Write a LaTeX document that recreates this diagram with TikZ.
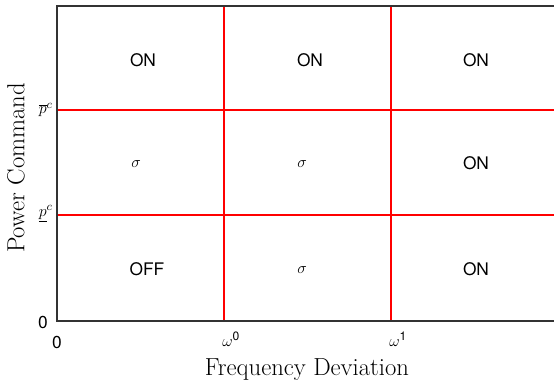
\documentclass[tikz,border=0pt]{standalone}
\usepackage{fontspec}
\setsansfont{TeX Gyre Heros}
\begin{document}
\begin{tikzpicture}[x=0.75pt,y=-0.75pt,
  axisline/.style={draw=black!80, line width=0.8pt},
  redline/.style={draw=red, line width=1.5pt},
  state/.style={font=\sffamily\fontsize{13}{15}\selectfont, inner sep=0pt},
  sig/.style={font=\fontsize{13}{15}\selectfont, inner sep=0pt},
  axlabel/.style={font=\fontsize{18.5}{21}\selectfont, inner sep=0pt},
  tick/.style={font=\fontsize{13}{15}\selectfont, inner sep=0pt},
  zero/.style={font=\sffamily\fontsize{13}{15}\selectfont, inner sep=0pt}]
\useasboundingbox (0,0) rectangle (554,384);
\fill[white] (0,0) rectangle (554,384);
% grid lines
\coordinate (v0t) at (224,6); \coordinate (v0b) at (224,321);
\coordinate (v1t) at (391,6); \coordinate (v1b) at (391,321);
\coordinate (h0l) at (57,110); \coordinate (h0r) at (554,110);
\coordinate (h1l) at (57,215); \coordinate (h1r) at (554,215);
\draw[redline] (v0t) -- (v0b);
\draw[redline] (v1t) -- (v1b);
\draw[redline] (h0l) -- (h0r);
\draw[redline] (h1l) -- (h1r);
% axes
\coordinate (tl) at (57,6); \coordinate (tr) at (554,6);
\coordinate (bl) at (57,321); \coordinate (br) at (554,321);
\draw[axisline] (tr) -- (tl) -- (bl) -- (br);
% region labels
\node[state] (a1) at (143,60) {ON};
\node[state] (a2) at (310,60) {ON};
\node[state] (a3) at (476,60) {ON};
\node[sig] (b1) at (136,164) {$\sigma$};
\node[sig] (b2) at (302,164) {$\sigma$};
\node[state] (b3) at (476,163) {ON};
\node[state] (c1) at (147,269) {OFF};
\node[sig] (c2) at (302,270) {$\sigma$};
\node[state] (c3) at (476,269) {ON};
% ticks
\node[tick, anchor=east] (pbar) at (53,110) {$\overline{p}^{c}$};
\node[tick, anchor=east] (pund) at (53,214) {$\underline{p}^{c}$};
\node[tick, anchor=west] (w0) at (222,339) {$\omega$\textsuperscript{\sffamily 0}};
\node[tick, anchor=west] (w1) at (389,339) {$\omega$\textsuperscript{\sffamily 1}};
\node[zero] (z1) at (43,322) {0};
\node[zero] (z2) at (57,342) {0};
% axis labels
\node[axlabel] (xl) at (307,370) {Frequency Deviation};
\node[axlabel, rotate=90] (yl) at (16,168) {Power Command};
\end{tikzpicture}
\end{document}
